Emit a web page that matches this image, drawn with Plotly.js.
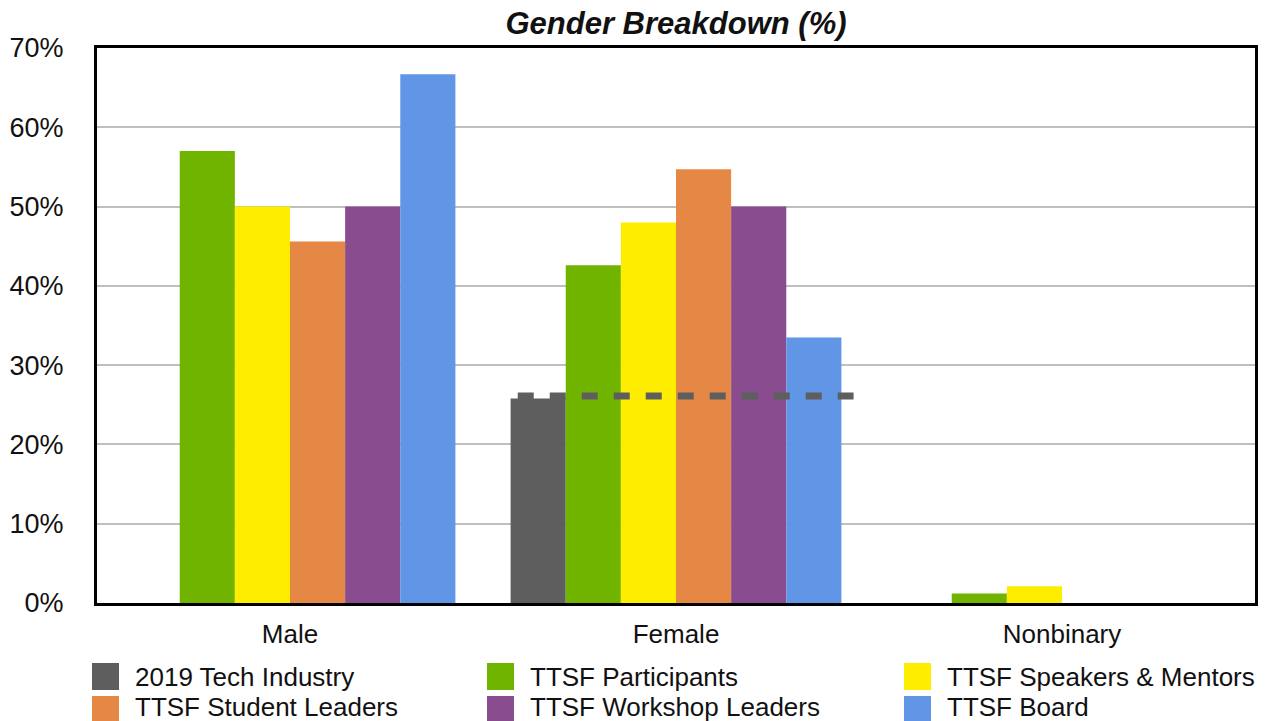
<!DOCTYPE html>
<html>
<head>
<meta charset="utf-8">
<script src="https://cdn.plot.ly/plotly-3.0.1.min.js"></script>
<style>html,body{margin:0;padding:0;background:#fff;}#chart{width:1268px;height:721px;}</style>
</head>
<body>
<div id="chart"></div>
<script>
// ---- data ----
const categories = ["Male", "Female", "Nonbinary"];
const seriesNames = ["2019 Tech Industry", "TTSF Participants", "TTSF Speakers & Mentors",
                     "TTSF Student Leaders", "TTSF Workshop Leaders", "TTSF Board"];
const techIndustry      = [null, 25.8, null];
const participants      = [57.0, 42.6, 1.2];
const speakersMentors   = [50.0, 48.0, 2.1];
const studentLeaders    = [45.6, 54.7, null];
const workshopLeaders   = [50.0, 50.0, null];
const board             = [66.7, 33.5, null];
const techIndustryLine  = 26.1;   // dashed reference line across Female group
const yTickVals = [0, 10, 20, 30, 40, 50, 60, 70];
const yTickText = ["0%", "10%", "20%", "30%", "40%", "50%", "60%", "70%"];

// ---- styles ----
const colors = ["#5e5e5e", "#71b400", "#ffed00", "#e68845", "#884c8f", "#6196e6"];
const seriesValues = [techIndustry, participants, speakersMentors, studentLeaders, workshopLeaders, board];
const FONT = "Liberation Sans, Arial, Helvetica, sans-serif";

const traces = seriesValues.map((vals, i) => ({
  type: "bar",
  name: seriesNames[i],
  x: categories,
  y: vals,
  marker: {color: colors[i], line: {width: 0}},
  showlegend: false,
  hoverinfo: "name+y"
}));

// plot area in pixels
const W = 1268, H = 721;
const L = 97, R = 13, T = 48, B = 118;
const pw = W - L - R, ph = H - T - B;
const px2x = px => (px - L) / pw;
const py2y = py => (H - B - py) / ph;

const shapes = [{
  type: "line", xref: "x", yref: "y", layer: "above",
  x0: 0.59, x1: 1.46, y0: techIndustryLine, y1: techIndustryLine,
  line: {color: "#5e5e5e", width: 7, dash: "16px,16px"}
}];
const annotations = [];
const colX = [92, 487, 904];
const rowY = [663, 696];
const textY = [677, 707];
seriesNames.forEach((name, i) => {
  const c = i % 3, r = Math.floor(i / 3);
  const x0 = colX[c], y0 = rowY[r];
  shapes.push({
    type: "rect", xref: "paper", yref: "paper", layer: "above",
    x0: px2x(x0), x1: px2x(x0 + 27), y0: py2y(y0 + 27), y1: py2y(y0),
    fillcolor: colors[i], line: {width: 0}
  });
  annotations.push({
    xref: "paper", yref: "paper", x: px2x(x0 + 42), y: py2y(textY[r]),
    xanchor: "left", yanchor: "middle", showarrow: false, borderpad: 0,
    text: name.replace("&", "&amp;"), font: {family: FONT, size: 26, color: "#111"}
  });
});

const layout = {
  width: W, height: H,
  margin: {l: L, r: R, t: T, b: B, pad: 0},
  paper_bgcolor: "#fff", plot_bgcolor: "#fff",
  title: {
    text: "<b><i>Gender Breakdown (%)</i></b>",
    x: 0.5, xref: "paper", y: 1 - 23 / H, yref: "container", yanchor: "middle",
    font: {family: FONT, size: 31, color: "#111"}
  },
  barmode: "group", bargap: 0.143, bargroupgap: 0,
  showlegend: false,
  xaxis: {
    type: "category", categoryorder: "array", categoryarray: categories,
    showline: true, linecolor: "#000", linewidth: 3, mirror: true,
    showgrid: false, zeroline: false,
    ticks: "outside", ticklen: 6, tickcolor: "rgba(0,0,0,0)",
    tickfont: {family: FONT, size: 26, color: "#111"}
  },
  yaxis: {
    range: [0, 70], tickvals: yTickVals, ticktext: yTickText,
    showline: true, linecolor: "#000", linewidth: 3, mirror: true,
    showgrid: true, gridcolor: "#bfbfbf", gridwidth: 2, zeroline: false,
    ticks: "outside", ticklen: 25, tickcolor: "rgba(0,0,0,0)",
    tickfont: {family: FONT, size: 27, color: "#111"}
  },
  shapes: shapes,
  annotations: annotations
};

Plotly.newPlot("chart", traces, layout, {displayModeBar: false, responsive: false});
</script>
</body>
</html>
